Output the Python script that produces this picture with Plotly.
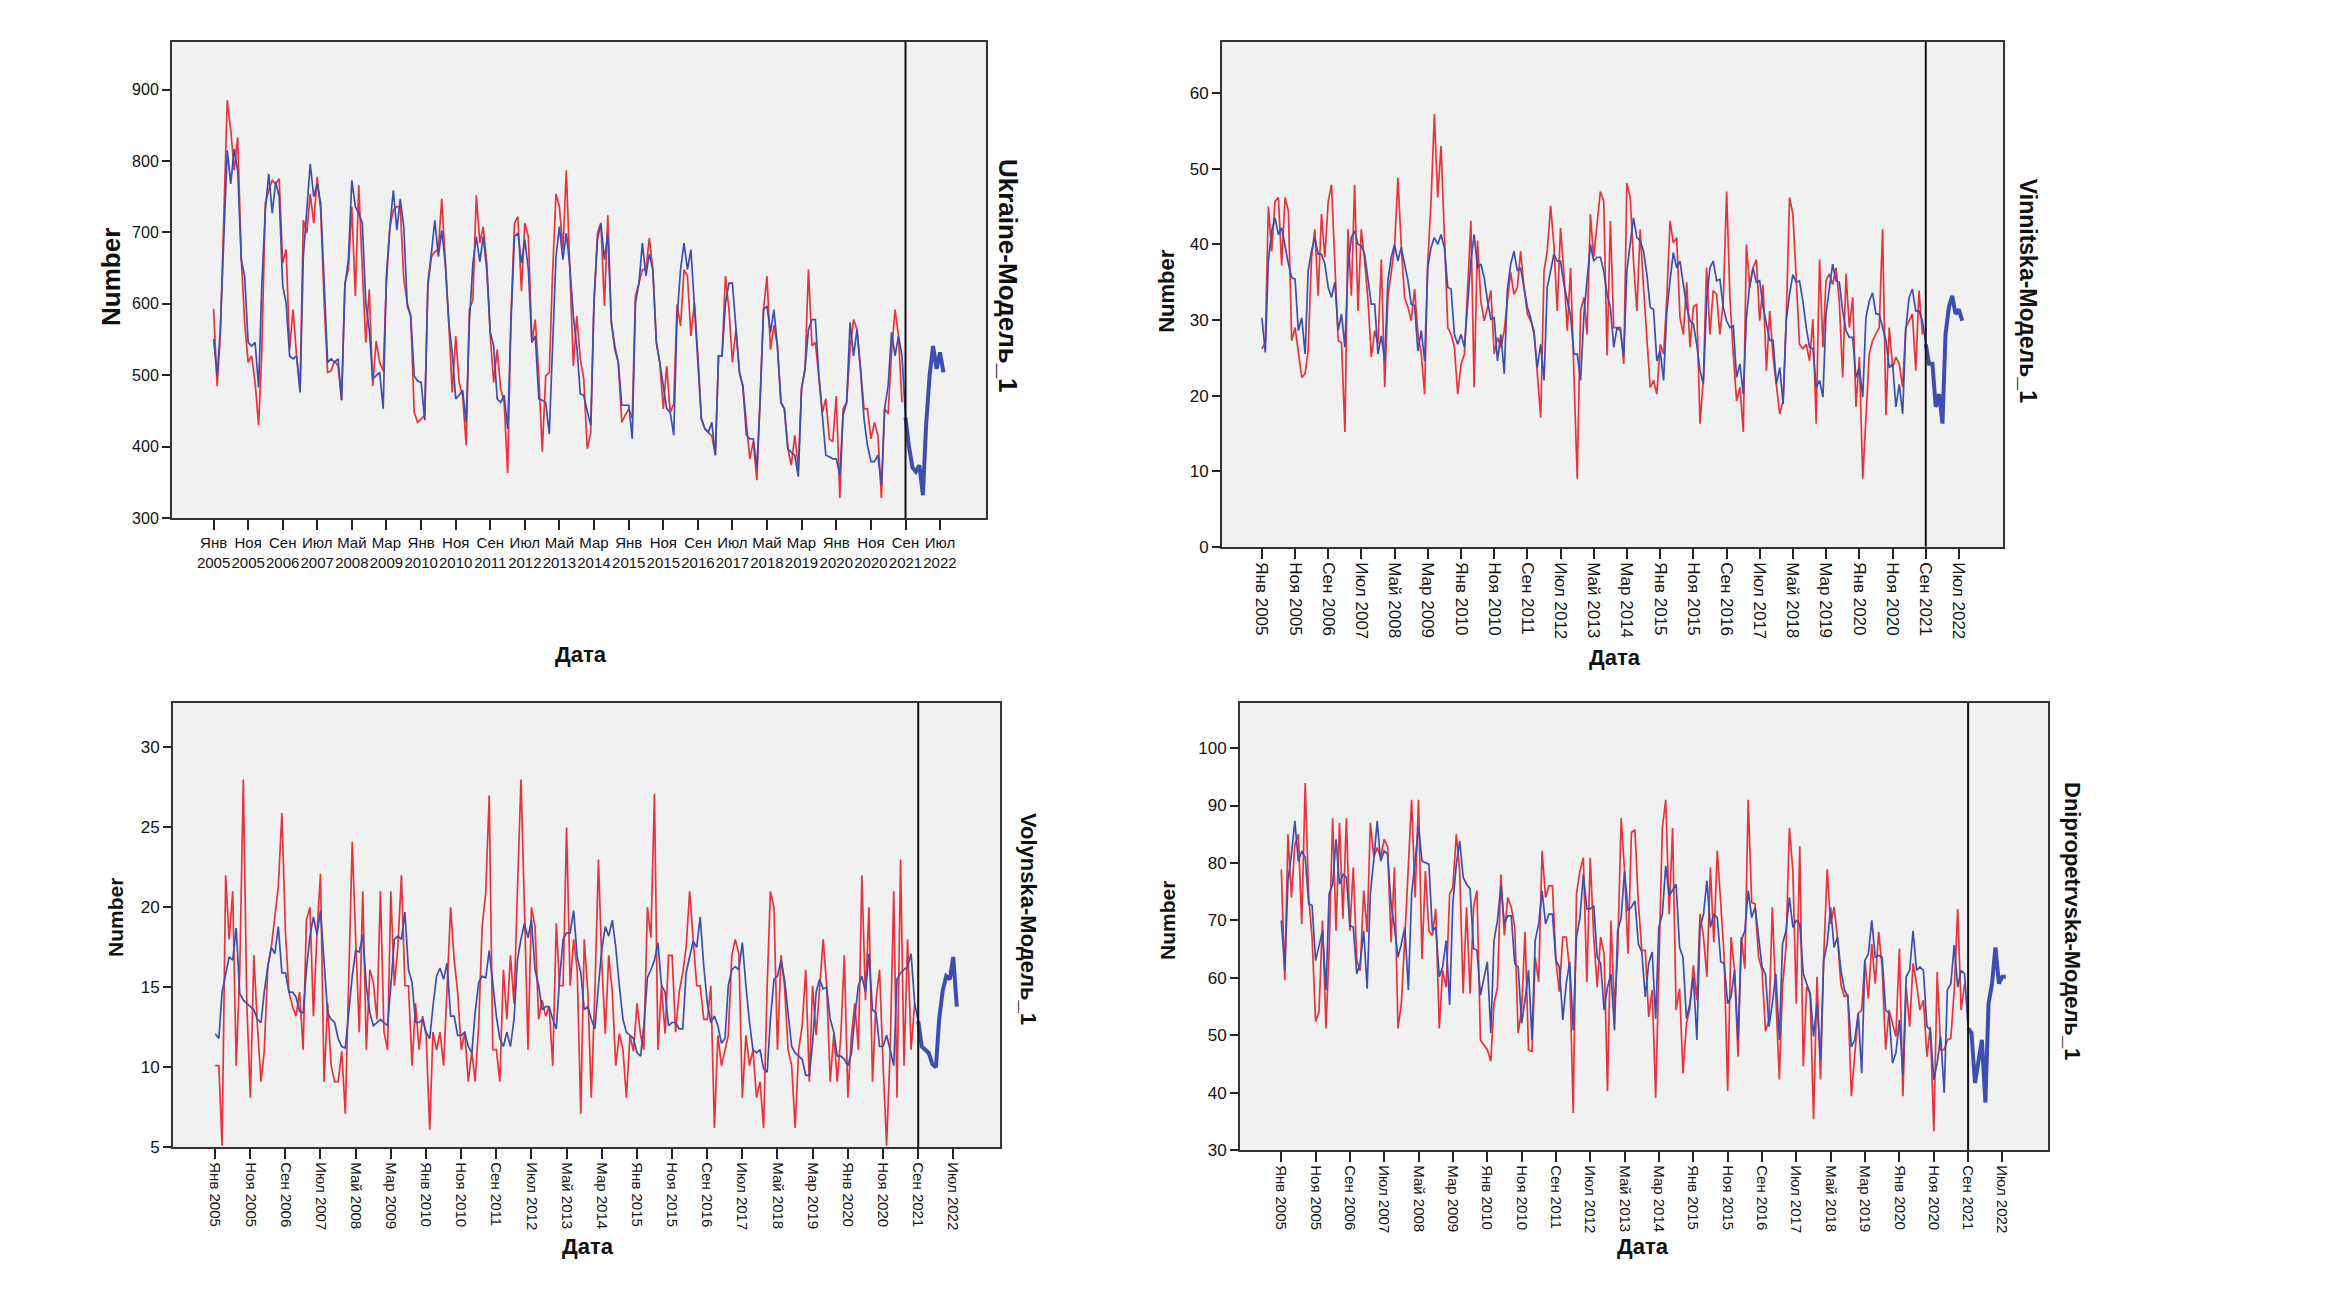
import pandas as pd
import plotly.graph_objects as go

# Monthly counts Jan 2005 - Aug 2021 (observed + model fit), forecast Sep 2021 - Aug 2022
ukraine_observed = [
    593, 485, 555, 717, 885, 843, 787, 833, 666, 574, 518, 527,
    490, 430, 532, 741, 759, 773, 768, 775, 657, 676, 536, 592,
    527, 481, 717, 699, 754, 713, 778, 731, 601, 504, 506, 520,
    513, 465, 629, 648, 736, 611, 766, 648, 546, 620, 485, 548,
    518, 506, 629, 708, 731, 736, 736, 634, 601, 583, 448, 434,
    439, 444, 625, 666, 673, 676, 747, 666, 574, 476, 555, 490,
    471, 402, 592, 606, 752, 685, 708, 657, 555, 490, 536, 481,
    462, 363, 583, 713, 722, 618, 713, 694, 546, 578, 499, 393,
    499, 504, 639, 754, 736, 676, 787, 648, 513, 583, 523, 495,
    397, 420, 601, 699, 713, 597, 724, 574, 541, 518, 434, 444,
    453, 440, 611, 629, 648, 648, 692, 648, 546, 518, 453, 513,
    448, 460, 599, 569, 648, 639, 555, 601, 527, 439, 425, 420,
    415, 388, 527, 527, 639, 592, 518, 564, 504, 485, 430, 383,
    407, 353, 462, 592, 639, 536, 570, 541, 462, 453, 397, 374,
    416, 370, 481, 509, 648, 541, 546, 499, 448, 467, 411, 407,
    471, 328, 453, 462, 536, 578, 564, 509, 453, 453, 411, 434,
    416, 328, 453, 446, 532, 592, 555, 462,
]
ukraine_fit = [
    551, 499, 564, 703, 815, 768, 817, 787, 662, 639, 546, 541,
    546, 483, 625, 731, 782, 727, 771, 750, 625, 601, 527, 523,
    527, 476, 666, 731, 796, 750, 768, 741, 620, 518, 523, 518,
    523, 465, 625, 662, 773, 736, 727, 713, 601, 564, 495, 499,
    504, 453, 639, 708, 759, 703, 747, 708, 597, 583, 499, 492,
    490, 437, 629, 671, 717, 666, 703, 657, 574, 532, 467, 472,
    479, 434, 574, 657, 694, 659, 694, 648, 560, 541, 467, 462,
    472, 425, 574, 694, 699, 657, 690, 648, 546, 555, 467, 465,
    462, 418, 527, 666, 708, 662, 699, 652, 583, 541, 474, 472,
    450, 430, 601, 690, 713, 662, 699, 574, 536, 518, 458, 458,
    458, 411, 601, 629, 685, 639, 670, 648, 546, 518, 481, 453,
    448, 416, 580, 648, 685, 648, 676, 601, 527, 439, 425, 420,
    434, 388, 527, 527, 601, 629, 629, 564, 504, 485, 416, 411,
    411, 370, 462, 592, 597, 560, 592, 541, 462, 453, 397, 392,
    388, 358, 481, 509, 564, 578, 578, 499, 448, 388, 386, 383,
    383, 360, 444, 462, 574, 527, 564, 509, 439, 402, 379, 379,
    388, 346, 453, 485, 560, 527, 555, 527,
]
ukraine_forecast = [441, 400, 371, 365, 374, 332, 430, 500, 541, 509, 532, 504]

vinnitska_observed = [
    26.2, 27.0, 45.0, 39.1, 45.7, 46.2, 37.2, 46.2, 44.4, 27.3, 29.0, 25.5,
    22.4, 22.9, 26.0, 38.3, 42.0, 33.2, 44.0, 38.3, 45.7, 47.9, 38.3, 27.3,
    27.0, 15.2, 42.0, 33.2, 47.9, 31.2, 42.0, 37.8, 32.5, 25.1, 28.6, 26.8,
    38.0, 21.1, 33.0, 36.1, 39.6, 48.8, 40.0, 33.0, 31.7, 29.9, 34.1, 28.2,
    25.5, 20.2, 37.4, 45.7, 57.2, 46.2, 53.0, 41.3, 29.0, 28.1, 26.4, 20.2,
    24.2, 25.5, 33.0, 43.1, 21.1, 40.5, 32.5, 29.9, 31.7, 33.9, 25.5, 27.7,
    26.4, 28.6, 32.5, 36.3, 33.4, 34.3, 39.1, 34.3, 30.8, 29.9, 28.6, 22.9,
    17.1, 36.5, 39.1, 45.1, 40.0, 31.2, 42.2, 36.1, 28.6, 36.9, 22.9, 9.0,
    31.2, 33.0, 28.1, 44.0, 38.3, 42.7, 47.0, 45.7, 25.3, 43.1, 29.0, 29.0,
    29.0, 24.2, 48.1, 46.2, 37.8, 31.2, 42.0, 34.3, 27.3, 21.1, 22.0, 20.2,
    26.8, 25.5, 32.5, 43.1, 40.2, 40.9, 30.3, 28.1, 35.0, 26.4, 31.7, 32.1,
    16.3, 22.4, 36.9, 28.1, 33.9, 33.4, 28.1, 32.5, 47.0, 33.0, 25.5, 19.3,
    21.1, 15.2, 40.0, 34.3, 36.9, 38.0, 29.9, 34.7, 23.3, 31.2, 25.1, 21.1,
    17.6, 19.3, 29.9, 46.2, 44.0, 35.6, 26.8, 26.2, 26.8, 24.6, 30.1, 16.3,
    38.0, 26.4, 35.2, 36.1, 34.7, 36.9, 32.5, 22.4, 36.1, 29.0, 33.0, 18.5,
    25.1, 9.0, 16.7, 25.5, 27.3, 28.1, 29.0, 42.0, 17.4, 29.0, 23.7, 25.1,
    24.2, 21.1, 29.0, 29.9, 30.8, 23.3, 33.9, 28.1,
]
vinnitska_fit = [
    30.3, 25.7, 37.8, 41.8, 43.5, 41.3, 42.2, 39.6, 37.4, 35.6, 35.4, 28.6,
    30.3, 25.5, 36.5, 39.1, 40.9, 38.7, 38.7, 37.4, 34.3, 33.0, 35.0, 28.6,
    30.8, 26.4, 36.9, 40.9, 41.8, 40.0, 39.8, 38.7, 35.2, 32.1, 32.1, 25.5,
    27.9, 24.6, 35.2, 38.3, 40.0, 37.8, 39.6, 37.4, 35.2, 32.1, 31.9, 25.9,
    28.6, 24.6, 36.9, 39.6, 40.9, 40.0, 41.3, 39.6, 34.3, 34.1, 28.1, 26.8,
    28.1, 26.4, 32.5, 37.8, 41.3, 36.9, 37.4, 35.6, 32.5, 30.1, 30.3, 24.6,
    28.1, 22.9, 33.9, 37.4, 39.1, 36.5, 36.9, 34.3, 31.7, 30.3, 28.1, 23.7,
    26.8, 22.0, 34.3, 36.5, 38.7, 37.8, 37.8, 34.7, 32.5, 30.6, 25.5, 25.5,
    22.0, 30.8, 35.2, 40.0, 37.8, 38.3, 38.3, 36.5, 33.4, 31.7, 26.4, 29.0,
    28.6, 25.1, 36.5, 40.5, 43.5, 40.9, 40.5, 39.1, 36.0, 31.7, 31.4, 24.6,
    25.9, 22.0, 30.8, 35.2, 38.9, 36.9, 37.8, 34.7, 31.7, 29.9, 29.5, 26.8,
    23.3, 21.5, 32.5, 36.9, 37.8, 35.2, 35.4, 31.7, 29.9, 29.0, 29.2, 22.4,
    24.2, 20.2, 30.3, 34.7, 36.9, 35.0, 35.2, 31.7, 29.5, 27.3, 27.3, 21.5,
    23.7, 18.9, 29.9, 33.4, 36.0, 35.0, 35.2, 32.5, 29.0, 26.4, 26.2, 21.1,
    22.0, 19.8, 30.8, 34.3, 37.4, 35.2, 35.0, 31.2, 28.6, 27.7, 27.7, 22.4,
    23.7, 19.8, 30.3, 32.5, 33.6, 30.8, 30.8, 29.0, 27.3, 23.7, 24.2, 18.5,
    21.5, 17.6, 28.6, 33.0, 34.1, 31.2, 31.2, 29.9,
]
vinnitska_forecast = [26.8, 24.2, 24.2, 18.5, 20.2, 16.3, 28.1, 31.7, 33.2, 30.8, 31.4, 29.9]

volynska_observed = [
    10.1, 10.1, 5.1, 22.0, 18.0, 21.0, 10.1, 16.0, 28.0, 14.0, 8.1, 17.0,
    12.6, 9.1, 11.0, 16.3, 17.5, 19.4, 21.3, 25.9, 18.4, 14.7, 13.8, 13.2,
    14.7, 11.1, 19.2, 20.0, 13.2, 18.4, 22.1, 9.1, 14.0, 10.1, 9.1, 9.1,
    11.0, 7.1, 14.9, 24.1, 18.0, 12.2, 21.0, 11.1, 16.1, 15.3, 13.0, 21.0,
    12.2, 11.1, 21.0, 15.1, 17.5, 22.0, 15.1, 15.1, 10.1, 14.0, 11.1, 13.2,
    12.0, 6.1, 12.2, 11.1, 12.2, 10.1, 14.9, 20.0, 16.7, 14.7, 11.1, 12.2,
    9.1, 11.0, 9.1, 12.6, 18.8, 20.9, 27.0, 11.1, 11.1, 9.1, 16.1, 13.0,
    17.0, 14.0, 20.9, 28.0, 20.0, 11.1, 20.0, 18.8, 13.0, 14.2, 13.2, 13.8,
    10.1, 19.0, 15.1, 15.1, 25.0, 15.1, 18.0, 16.1, 7.1, 18.0, 14.7, 8.1,
    14.7, 23.0, 16.7, 12.1, 17.0, 14.7, 10.1, 12.1, 11.1, 8.1, 12.0, 11.0,
    14.0, 12.0, 11.1, 20.0, 18.1, 27.1, 11.1, 15.1, 12.1, 17.0, 17.0, 12.2,
    14.7, 15.9, 17.5, 21.0, 18.0, 15.1, 15.1, 13.0, 13.0, 15.1, 6.2, 12.0,
    10.1, 11.1, 12.0, 17.0, 18.0, 17.1, 8.1, 12.0, 10.1, 11.1, 8.1, 9.1,
    6.2, 15.1, 21.0, 20.0, 11.1, 17.0, 15.1, 11.1, 10.1, 6.2, 11.1, 12.6,
    16.1, 9.1, 15.1, 12.0, 15.1, 18.0, 15.1, 9.1, 12.1, 9.1, 12.0, 17.0,
    8.1, 12.0, 14.0, 11.1, 22.0, 14.2, 20.0, 9.1, 14.2, 16.1, 10.1, 5.1,
    11.1, 21.0, 8.1, 23.0, 10.1, 18.0, 11.1, 14.0,
]
volynska_fit = [
    12.1, 11.8, 14.7, 15.9, 16.9, 16.7, 18.7, 14.6, 14.2, 14.0, 13.8, 13.6,
    13.0, 12.8, 14.7, 16.3, 17.5, 17.1, 18.8, 15.9, 15.9, 14.7, 14.7, 14.4,
    13.5, 13.4, 16.1, 18.2, 19.4, 18.3, 19.8, 16.7, 13.4, 13.0, 12.8, 11.8,
    11.3, 11.2, 13.6, 15.7, 17.3, 17.2, 18.3, 15.1, 13.4, 12.6, 12.8, 13.0,
    12.8, 12.6, 15.1, 18.0, 18.2, 18.0, 19.7, 16.1, 15.3, 12.8, 12.8, 13.0,
    12.2, 11.8, 13.8, 15.7, 16.2, 15.5, 16.5, 13.2, 13.2, 12.0, 12.0, 12.2,
    11.3, 10.9, 13.4, 15.3, 15.7, 15.6, 17.3, 15.1, 13.2, 11.8, 11.3, 12.2,
    11.3, 13.0, 16.7, 18.0, 19.0, 18.1, 19.2, 16.1, 15.1, 13.6, 13.8, 13.8,
    13.0, 12.4, 15.5, 18.0, 18.4, 18.4, 19.8, 16.9, 15.9, 13.6, 13.8, 13.0,
    12.4, 15.1, 17.3, 18.8, 18.2, 19.2, 17.5, 15.1, 13.0, 12.2, 12.0, 11.8,
    10.9, 10.7, 12.6, 15.6, 16.1, 16.7, 17.8, 15.1, 14.7, 12.6, 12.8, 12.8,
    12.4, 12.4, 15.9, 16.9, 17.9, 17.5, 19.4, 16.3, 14.0, 12.8, 13.2, 12.6,
    11.5, 11.8, 15.1, 16.1, 16.3, 16.1, 17.8, 15.1, 12.8, 11.1, 10.9, 11.1,
    9.9, 9.7, 13.0, 15.5, 15.7, 16.7, 15.5, 13.4, 11.3, 10.9, 10.7, 10.5,
    9.5, 9.5, 11.5, 14.7, 15.5, 14.9, 15.0, 13.0, 12.2, 10.7, 10.7, 10.5,
    10.1, 10.9, 13.2, 15.1, 15.7, 14.7, 17.1, 13.6, 13.4, 11.3, 11.3, 12.0,
    11.1, 10.1, 15.5, 15.9, 16.1, 16.3, 17.1, 14.0,
]
volynska_forecast = [12.9, 11.3, 11.1, 10.9, 10.2, 10.0, 13.0, 14.8, 15.7, 15.5, 16.9, 13.8]

dnipro_observed = [
    78.9, 59.6, 85.0, 74.0, 83.2, 85.0, 69.4, 93.9, 74.0, 67.0, 52.4, 54.1,
    70.0, 51.2, 65.0, 87.8, 68.2, 87.0, 70.3, 87.8, 68.2, 79.2, 63.0, 61.3,
    75.2, 68.0, 87.0, 81.0, 82.7, 80.9, 84.1, 82.9, 66.2, 79.2, 51.2, 55.5,
    67.0, 78.6, 91.0, 74.0, 91.0, 63.3, 78.6, 68.2, 67.4, 72.0, 51.2, 61.3,
    58.4, 74.6, 75.7, 85.0, 78.6, 57.3, 72.3, 57.3, 72.3, 75.2, 49.2, 48.3,
    47.5, 45.5, 55.5, 58.4, 78.0, 67.4, 74.0, 72.3, 68.8, 50.4, 54.4, 68.0,
    47.5, 47.2, 63.6, 59.3, 82.1, 74.0, 76.0, 76.0, 63.0, 57.6, 67.1, 67.1,
    61.3, 36.5, 74.6, 78.6, 80.9, 59.3, 80.9, 67.1, 58.4, 67.1, 64.2, 40.3,
    70.0, 54.4, 64.2, 87.8, 78.6, 64.2, 85.3, 85.8, 72.9, 64.8, 64.8, 53.2,
    57.9, 39.1, 61.3, 86.1, 91.0, 71.1, 86.1, 54.4, 58.1, 43.4, 52.1, 54.7,
    62.2, 56.1, 71.1, 67.1, 60.2, 79.2, 66.2, 82.1, 72.9, 63.6, 40.3, 67.1,
    61.3, 46.3, 67.1, 61.6, 91.0, 73.1, 72.9, 63.6, 61.3, 50.7, 52.7, 72.3,
    56.7, 42.3, 58.4, 65.3, 86.1, 78.6, 55.5, 82.9, 44.6, 58.4, 57.3, 35.4,
    60.2, 42.3, 63.6, 78.9, 69.4, 72.3, 67.1, 58.7, 56.7, 57.0, 39.4, 46.3,
    53.8, 54.4, 63.0, 56.4, 65.9, 59.0, 68.0, 61.9, 47.5, 54.4, 52.1, 49.8,
    65.1, 39.4, 58.4, 51.5, 62.5, 59.0, 54.4, 56.1, 46.3, 51.5, 33.3, 61.0,
    47.5, 47.5, 49.2, 49.5, 57.9, 72.0, 54.4, 59.0,
]
dnipro_fit = [
    70.0, 61.3, 76.9, 81.5, 87.3, 80.3, 82.1, 80.9, 72.9, 72.6, 63.0, 65.3,
    68.2, 57.9, 74.6, 76.3, 84.1, 76.3, 78.0, 77.5, 69.1, 68.8, 60.7, 62.5,
    68.2, 58.1, 74.6, 80.6, 87.3, 80.3, 82.1, 81.5, 72.9, 68.8, 63.6, 65.9,
    68.8, 57.9, 74.6, 80.3, 86.4, 80.3, 80.1, 79.8, 68.2, 68.8, 60.2, 61.9,
    66.5, 55.3, 72.9, 79.8, 83.8, 77.5, 76.3, 75.5, 65.1, 64.8, 57.0, 59.6,
    62.8, 50.4, 66.5, 70.0, 76.0, 69.4, 70.8, 70.8, 62.5, 61.9, 52.1, 56.1,
    61.3, 49.2, 66.5, 69.4, 75.2, 69.4, 71.1, 71.1, 63.0, 61.9, 52.7, 59.0,
    62.8, 50.9, 67.1, 70.5, 78.0, 72.0, 72.0, 72.6, 63.6, 62.5, 54.4, 58.4,
    60.7, 50.9, 68.2, 70.5, 78.6, 71.7, 72.3, 73.4, 65.9, 64.5, 56.7, 62.5,
    64.5, 52.9, 68.8, 71.1, 79.5, 74.3, 75.2, 76.3, 65.3, 63.6, 52.9, 55.5,
    60.2, 49.2, 68.8, 71.1, 76.9, 68.8, 71.1, 70.5, 62.8, 62.5, 55.5, 56.7,
    61.3, 49.2, 66.5, 68.2, 75.2, 70.5, 72.3, 67.1, 61.9, 60.7, 51.5, 55.5,
    60.7, 49.2, 65.9, 68.2, 74.0, 68.8, 70.0, 69.4, 60.7, 59.0, 57.3, 49.8,
    55.5, 45.7, 63.0, 65.9, 72.3, 65.3, 67.1, 61.3, 57.9, 56.7, 48.0, 49.2,
    53.8, 43.4, 63.0, 64.2, 70.0, 63.6, 63.9, 63.6, 54.4, 53.8, 45.2, 46.9,
    52.7, 43.1, 60.2, 61.3, 68.2, 61.3, 61.9, 61.3, 51.5, 50.9, 42.3, 45.2,
    49.8, 40.0, 57.9, 59.0, 65.7, 58.4, 61.3, 60.7,
]
dnipro_forecast = [51.2, 50.4, 41.7, 45.2, 49.2, 38.3, 55.5, 59.0, 65.3, 59.0, 60.2, 60.2]

tick_months = ["Янв", "Ноя", "Сен", "Июл", "Май", "Мар", "Янв", "Ноя", "Сен", "Июл", "Май",
               "Мар", "Янв", "Ноя", "Сен", "Июл", "Май", "Мар", "Янв", "Ноя", "Сен", "Июл"]
tick_years = [2005, 2005, 2006, 2007, 2008, 2009, 2010, 2010, 2011, 2012, 2013,
              2014, 2015, 2015, 2016, 2017, 2018, 2019, 2020, 2020, 2021, 2022]

RED = "#e8333b"
BLUE = "#3d4fae"
SANS = "Liberation Sans, Arial, sans-serif"
W, H = 2336, 1314
OFF = 8  # page body margin


def px_x(v):
    return (v - OFF) / W


def px_y(v):
    return 1 - (v - OFF) / H


def add_panel(fig, n, p):
    sfx = "" if n == 1 else str(n)
    xa, ya = "x" + sfx, "y" + sfx
    obs_dates = pd.date_range("2005-01-01", periods=len(p["observed"]), freq="MS")
    fc_dates = pd.date_range("2021-09-01", periods=len(p["forecast"]), freq="MS")

    fig.add_trace(go.Scatter(x=obs_dates, y=p["observed"], mode="lines",
                             line=dict(color=RED, width=1.7), xaxis=xa, yaxis=ya))
    fig.add_trace(go.Scatter(x=list(obs_dates) + list(fc_dates[:1]),
                             y=p["fitted"] + p["forecast"][:1], mode="lines",
                             line=dict(color=BLUE, width=1.7), xaxis=xa, yaxis=ya))
    fig.add_trace(go.Scatter(x=fc_dates, y=p["forecast"], mode="lines",
                             line=dict(color=BLUE, width=4), xaxis=xa, yaxis=ya))

    tick_dates = pd.date_range("2005-01-01", periods=len(tick_months), freq="10MS")
    if p["flat"]:
        labels = [f"{m}<br>{y}" for m, y in zip(tick_months, tick_years)]
        angle = 0
    else:
        labels = [f"{m} {y}" for m, y in zip(tick_months, tick_years)]
        angle = 90

    x0, x1, y0, y1 = p["box"]
    fig.layout["xaxis" + sfx] = dict(
        domain=[px_x(x0), px_x(x1)], anchor=ya, type="date",
        range=["2004-01-01", "2023-08-10"],
        tickmode="array", tickvals=tick_dates, ticktext=labels, tickangle=angle,
        tickfont=dict(family=SANS, size=p["xsize"], color="#111"),
        ticks="outside", ticklen=10, tickwidth=1.5, tickcolor="#222",
        showgrid=False, zeroline=False, showline=True, linecolor="#333",
        linewidth=2, mirror=True,
    )
    fig.layout["yaxis" + sfx] = dict(
        domain=[px_y(y1), px_y(y0)], anchor=xa, range=p["yrange"],
        tick0=p["yrange"][0], dtick=p["dtick"],
        tickfont=dict(family=SANS, size=16 if p["flat"] else 17, color="#111"),
        ticks="outside", ticklen=8, tickwidth=1.5, tickcolor="#222",
        showgrid=False, zeroline=False, showline=True, linecolor="#333",
        linewidth=2, mirror=True,
    )

    fig.add_shape(type="line", xref=xa, yref=ya + " domain",
                  x0="2021-09-01", x1="2021-09-01", y0=0, y1=1,
                  line=dict(color="#111", width=2))

    common = dict(xref="paper", yref="paper", xanchor="center", yanchor="middle",
                  showarrow=False)
    ax, ay = p["ytitle"]
    fig.add_annotation(x=px_x(ax), y=px_y(ay), text="<b>Number</b>", textangle=-90,
                       font=dict(family=SANS, size=p["tsize"], color="#111"), **common)
    ax, ay = p["xtitle"]
    fig.add_annotation(x=px_x(ax), y=px_y(ay), text="<b>Дата</b>",
                       font=dict(family=SANS, size=22, color="#111"), **common)
    ax, ay = p["rtitle"]
    fig.add_annotation(x=px_x(ax), y=px_y(ay), text=f"<b>{p['name']}</b>", textangle=90,
                       font=dict(family=SANS, size=p["rsize"], color="#111"), **common)


def main():
    panels = [
        dict(observed=ukraine_observed, fitted=ukraine_fit, forecast=ukraine_forecast,
             name="Ukraine-Модель_1", flat=True, yrange=[300, 967], dtick=100,
             box=(172, 986, 42, 522), xsize=15,
             ytitle=(111, 279), xtitle=(581, 659), rtitle=(1008, 278), tsize=26, rsize=26),
        dict(observed=vinnitska_observed, fitted=vinnitska_fit, forecast=vinnitska_forecast,
             name="Vinnitska-Модель_1", flat=False, yrange=[0, 66.8], dtick=10,
             box=(1222, 2003, 42, 551), xsize=17,
             ytitle=(1167, 293), xtitle=(1615, 662), rtitle=(2028, 293), tsize=22, rsize=23),
        dict(observed=volynska_observed, fitted=volynska_fit, forecast=volynska_forecast,
             name="Volynska-Модель_1", flat=False, yrange=[5, 32.8], dtick=5,
             box=(173, 1000, 708, 1156), xsize=15,
             ytitle=(115, 925), xtitle=(588, 1256), rtitle=(1029, 926), tsize=21, rsize=22),
        dict(observed=dnipro_observed, fitted=dnipro_fit, forecast=dnipro_forecast,
             name="Dnipropetrvska-Модель_1", flat=False, yrange=[30, 107.9], dtick=10,
             box=(1240, 2048, 708, 1159), xsize=15,
             ytitle=(1168, 928), xtitle=(1643, 1256), rtitle=(2072, 928), tsize=21, rsize=22),
    ]

    fig = go.Figure()
    for i, p in enumerate(panels, start=1):
        add_panel(fig, i, p)

    fig.update_layout(
        width=W, height=H,
        margin=dict(l=0, r=0, t=0, b=0),
        paper_bgcolor="white",
        plot_bgcolor="#f1f1f1",
        showlegend=False,
    )
    fig.write_html("out.html")


if __name__ == "__main__":
    main()
